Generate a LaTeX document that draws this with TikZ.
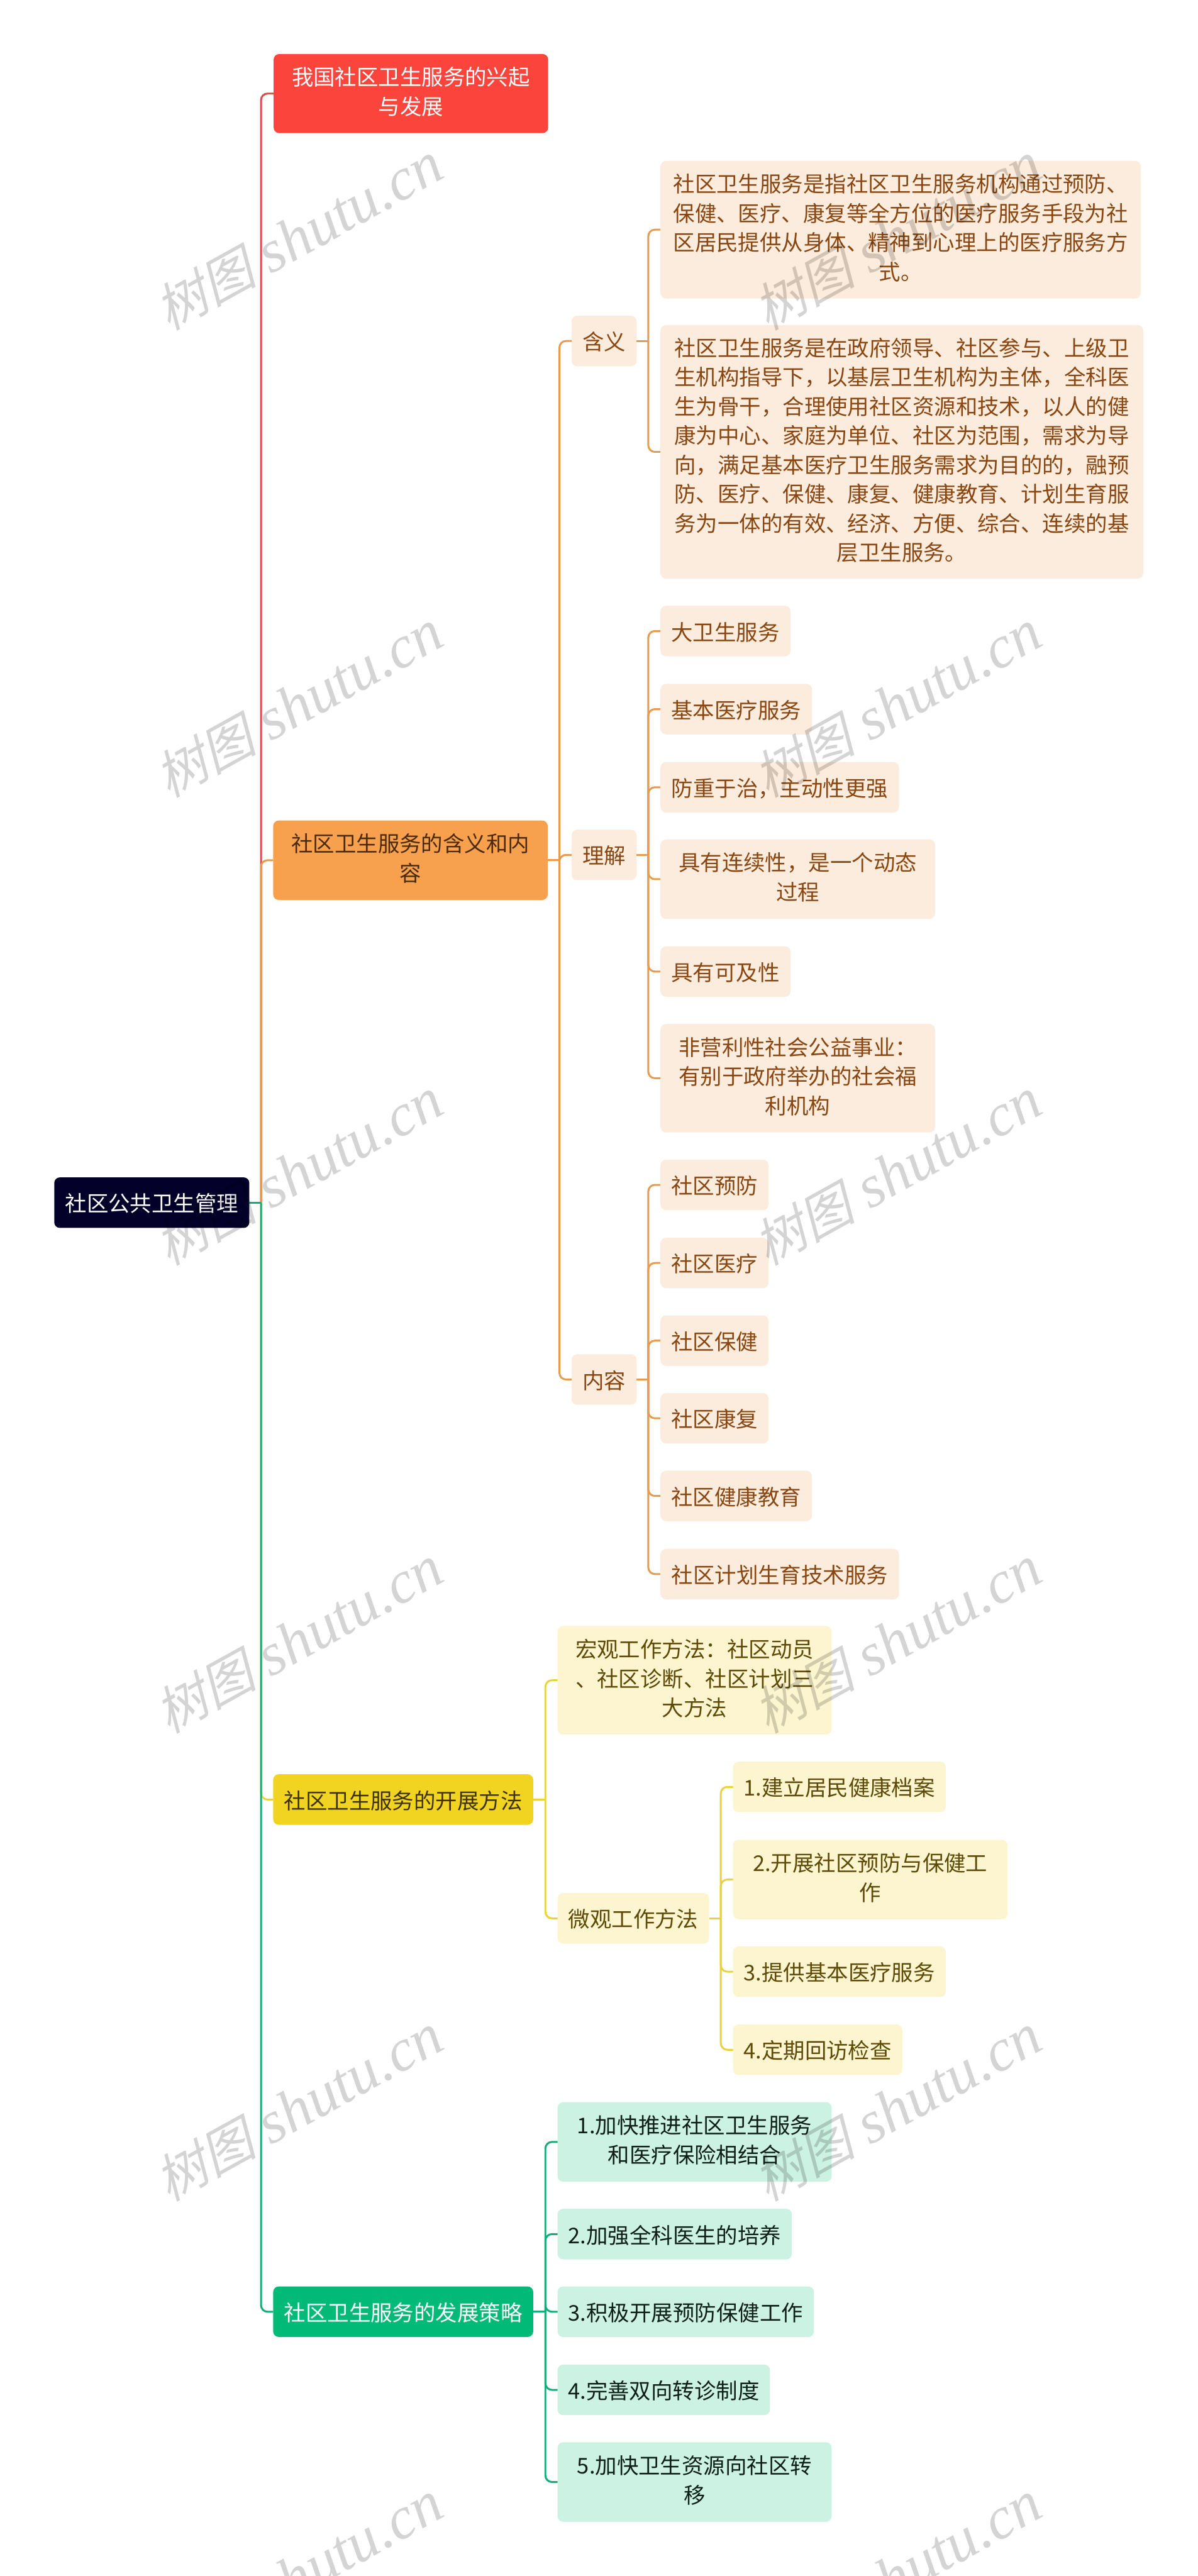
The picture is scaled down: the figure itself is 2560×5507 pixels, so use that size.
\documentclass[tikz,border=0pt]{standalone}
\usepackage{fontspec}
\setmainfont{Noto Sans CJK SC}
\newfontfamily\wmlat{Liberation Serif}[ItalicFont=* Italic]
\newfontfamily\wmcjk{Noto Sans CJK SC}[FakeSlant=0.25]
\newcommand\linestrut{\rule[-11.5pt]{0pt}{62.5pt}}
\definecolor{rootc}{HTML}{03002A}
\definecolor{redf}{HTML}{FA443C}
\definecolor{redl}{HTML}{DC484C}
\definecolor{orf}{HTML}{F7A04D}
\definecolor{orl}{HTML}{E69B4F}
\definecolor{orp}{HTML}{FCECDD}
\definecolor{ort}{HTML}{8A4610}
\definecolor{ord}{HTML}{4A2A08}
\definecolor{yef}{HTML}{F1D321}
\definecolor{yel}{HTML}{EAD33A}
\definecolor{yep}{HTML}{FCF5CF}
\definecolor{yet}{HTML}{5C4A06}
\definecolor{yed}{HTML}{3E3204}
\definecolor{grf}{HTML}{02BA78}
\definecolor{grl}{HTML}{14AC79}
\definecolor{grp}{HTML}{CCF2E3}
\definecolor{grt}{HTML}{0E1F18}
\tikzset{
  box/.style={rounded corners=12, inner sep=0pt, outer sep=0pt, align=center,
    font=\fontsize{46.3}{62.5}\selectfont,
    execute at begin node=\linestrut, execute at end node=\linestrut},
  rootbox/.style={box, fill=rootc, text=white},
  redbox/.style={box, fill=redf, text=white},
  orbox/.style={box, fill=orf, text=ord},
  yebox/.style={box, fill=yef, text=yed},
  grbox/.style={box, fill=grf, text=white},
  orleaf/.style={box, fill=orp, text=ort},
  yeleaf/.style={box, fill=yep, text=yet},
  grleaf/.style={box, fill=grp, text=grt},
  conn/.style={line width=4pt, rounded corners=14},
  stub/.style={line width=4pt},
  wm/.style={black, opacity=0.17, rotate=29, inner sep=0pt},
}
\begin{document}
\begin{tikzpicture}[x=1pt,y=-1pt]
\clip (0,0) rectangle (2560,5507);
\fill[white] (0,0) rectangle (2560,5507);

% level 0 and 1
\node[rootbox, minimum width=417, minimum height=108] (root) at (324.5,2571) {社区公共卫生管理};
\node[redbox, minimum width=587, minimum height=169] (n1) at (878.5,200) {我国社区卫生服务的兴起\\与发展};
\node[orbox, minimum width=587, minimum height=170] (n2) at (877.5,1839) {社区卫生服务的含义和内\\容};
\node[yebox, minimum width=556, minimum height=108] (n3) at (862,3847) {社区卫生服务的开展方法};
\node[grbox, minimum width=556, minimum height=108] (n4) at (862,4942) {社区卫生服务的发展策略};

% orange branch
\node[orleaf, minimum width=139, minimum height=108] (a1) at (1291.5,729) {含义};
\node[orleaf, minimum width=139, minimum height=108] (a2) at (1291.5,1827.5) {理解};
\node[orleaf, minimum width=139, minimum height=108] (a3) at (1291.5,2949) {内容};
\node[orleaf, minimum width=1027, minimum height=294] (a11) at (1925.5,491) {社区卫生服务是指社区卫生服务机构通过预防、\\保健、医疗、康复等全方位的医疗服务手段为社\\区居民提供从身体、精神到心理上的医疗服务方\\式。};
\node[orleaf, minimum width=1032, minimum height=542] (a12) at (1928,966) {社区卫生服务是在政府领导、社区参与、上级卫\\生机构指导下，以基层卫生机构为主体，全科医\\生为骨干，合理使用社区资源和技术，以人的健\\康为中心、家庭为单位、社区为范围，需求为导\\向，满足基本医疗卫生服务需求为目的的，融预\\防、医疗、保健、康复、健康教育、计划生育服\\务为一体的有效、经济、方便、综合、连续的基\\层卫生服务。};
\node[orleaf, minimum width=278, minimum height=108] (a21) at (1551,1349) {大卫生服务};
\node[orleaf, minimum width=324, minimum height=108] (a22) at (1574,1516) {基本医疗服务};
\node[orleaf, minimum width=510, minimum height=108] (a23) at (1667,1683) {防重于治，主动性更强};
\node[orleaf, minimum width=587, minimum height=170] (a24) at (1705.5,1879.5) {具有连续性，是一个动态\\过程};
\node[orleaf, minimum width=278, minimum height=108] (a25) at (1551,2077) {具有可及性};
\node[orleaf, minimum width=587, minimum height=232] (a26) at (1705.5,2305) {非营利性社会公益事业：\\有别于政府举办的社会福\\利机构};
\node[orleaf, minimum width=231, minimum height=108] (a31) at (1527.5,2533) {社区预防};
\node[orleaf, minimum width=231, minimum height=108] (a32) at (1527.5,2700) {社区医疗};
\node[orleaf, minimum width=231, minimum height=108] (a33) at (1527.5,2866) {社区保健};
\node[orleaf, minimum width=231, minimum height=108] (a34) at (1527.5,3032) {社区康复};
\node[orleaf, minimum width=324, minimum height=108] (a35) at (1574,3198) {社区健康教育};
\node[orleaf, minimum width=510, minimum height=108] (a36) at (1667,3365) {社区计划生育技术服务};

% yellow branch
\node[yeleaf, minimum width=586, minimum height=232] (b1) at (1485,3592) {宏观工作方法：社区动员\\、社区诊断、社区计划三\\大方法};
\node[yeleaf, minimum width=324, minimum height=108] (b2) at (1354,4101) {微观工作方法};
\node[yeleaf, minimum width=455, minimum height=108] (b21) at (1794.5,3820) {1.建立居民健康档案};
\node[yeleaf, minimum width=587, minimum height=170] (b22) at (1860.5,4018) {2.开展社区预防与保健工\\作};
\node[yeleaf, minimum width=455, minimum height=108] (b23) at (1794.5,4215) {3.提供基本医疗服务};
\node[yeleaf, minimum width=362, minimum height=108] (b24) at (1748,4382) {4.定期回访检查};

% green branch
\node[grleaf, minimum width=586, minimum height=170] (c1) at (1485,4579) {1.加快推进社区卫生服务\\和医疗保险相结合};
\node[grleaf, minimum width=501, minimum height=108] (c2) at (1442.5,4776) {2.加强全科医生的培养};
\node[grleaf, minimum width=548, minimum height=108] (c3) at (1466,4942) {3.积极开展预防保健工作};
\node[grleaf, minimum width=454, minimum height=108] (c4) at (1419,5109) {4.完善双向转诊制度};
\node[grleaf, minimum width=586, minimum height=170] (c5) at (1485,5306) {5.加快卫生资源向社区转\\移};

% spine points
\coordinate (s0) at (558,2571);
\coordinate (s2) at (1196,1839);
\coordinate (s21) at (1386,729);
\coordinate (s22) at (1386,1827.5);
\coordinate (s23) at (1386,2949);
\coordinate (s3) at (1166,3847);
\coordinate (s32) at (1541,4101);
\coordinate (s4) at (1166,4942);

% connectors
\draw[conn, redl] (s0) |- (n1.west);
\draw[conn, orl] (s0) |- (n2.west);
\draw[conn, yel] (s0) |- (n3.west);
\draw[conn, grl] (s0) |- (n4.west);
\draw[stub, grl] (root.east) -- (s0);

\draw[stub, orl] (n2.east) -- (s2);
\foreach \c in {a1,a2,a3} \draw[conn, orl] (s2) |- (\c.west);
\draw[stub, orl] (a1.east) -- (s21);
\foreach \c in {a11,a12} \draw[conn, orl] (s21) |- (\c.west);
\draw[stub, orl] (a2.east) -- (s22);
\foreach \c in {a21,a22,a23,a24,a25,a26} \draw[conn, orl] (s22) |- (\c.west);
\draw[stub, orl] (a3.east) -- (s23);
\foreach \c in {a31,a32,a33,a34,a35,a36} \draw[conn, orl] (s23) |- (\c.west);

\draw[stub, yel] (n3.east) -- (s3);
\foreach \c in {b1,b2} \draw[conn, yel] (s3) |- (\c.west);
\draw[stub, yel] (b2.east) -- (s32);
\foreach \c in {b21,b22,b23,b24} \draw[conn, yel] (s32) |- (\c.west);

\draw[stub, grl] (n4.east) -- (s4);
\foreach \c in {c1,c2,c3,c4,c5} \draw[conn, grl] (s4) |- (\c.west);

% watermark
\foreach \i in {0,...,5} \foreach \j in {0,1}
  \node[wm] (wm\i\j) at ({638+1280*\j},{506+1000*\i}) {{\wmcjk\fontsize{110}{115}\selectfont 树图}\hspace{30pt}{\wmlat\itshape\fontsize{128}{115}\selectfont shutu.cn}};
\end{tikzpicture}
\end{document}
